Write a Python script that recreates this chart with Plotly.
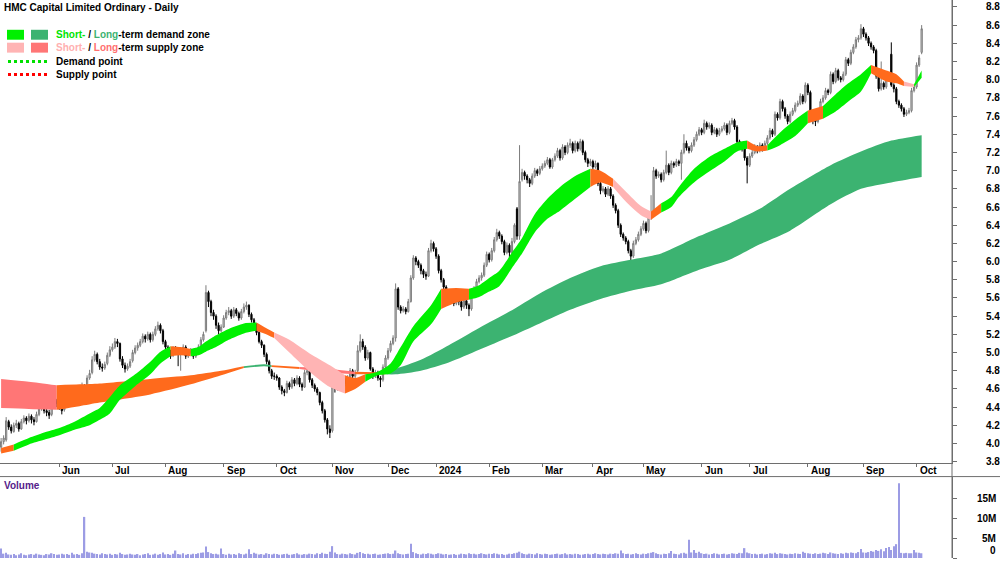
import plotly.graph_objects as go

# ---------------- daily candles (open, high, low, close) ----------------
bars_may_aug_2023 = [
    (3.96, 4.06, 3.91, 4.02), (4.02, 4.09, 3.99, 4.06), (4.04, 4.29, 4.02, 4.25), (4.24, 4.26, 4.15, 4.18),
    (4.18, 4.21, 4.11, 4.14), (4.13, 4.23, 4.12, 4.20), (4.20, 4.26, 4.17, 4.22), (4.22, 4.24, 4.13, 4.16),
    (4.16, 4.27, 4.15, 4.24), (4.24, 4.31, 4.22, 4.28), (4.28, 4.30, 4.21, 4.25), (4.25, 4.33, 4.23, 4.30),
    (4.30, 4.32, 4.22, 4.26), (4.26, 4.29, 4.20, 4.24), (4.24, 4.35, 4.23, 4.32), (4.32, 4.41, 4.30, 4.38),
    (4.38, 4.46, 4.36, 4.42), (4.42, 4.44, 4.33, 4.36), (4.36, 4.39, 4.30, 4.34), (4.34, 4.37, 4.27, 4.31),
    (4.32, 4.45, 4.30, 4.42), (4.42, 4.50, 4.40, 4.47), (4.47, 4.49, 4.40, 4.44), (4.44, 4.47, 4.37, 4.40),
    (4.40, 4.42, 4.32, 4.36), (4.37, 4.49, 4.35, 4.46), (4.46, 4.56, 4.44, 4.53), (4.53, 4.62, 4.51, 4.58),
    (4.58, 4.60, 4.49, 4.52), (4.52, 4.59, 4.50, 4.56), (4.56, 4.57, 4.45, 4.48), (4.49, 4.61, 4.47, 4.58),
    (4.58, 4.67, 4.56, 4.63), (4.63, 4.65, 4.57, 4.60), (4.61, 4.75, 4.60, 4.72), (4.72, 4.81, 4.70, 4.77),
    (4.78, 4.96, 4.76, 4.92), (4.92, 5.02, 4.90, 4.98), (4.98, 5.00, 4.87, 4.90), (4.90, 4.93, 4.81, 4.84),
    (4.84, 4.88, 4.79, 4.83), (4.83, 4.90, 4.81, 4.87), (4.88, 5.00, 4.86, 4.97), (4.97, 5.07, 4.95, 5.03),
    (5.03, 5.10, 5.01, 5.06), (5.06, 5.16, 5.04, 5.12), (5.12, 5.15, 5.06, 5.10), (5.10, 5.11, 4.90, 4.93),
    (4.93, 4.96, 4.83, 4.86), (4.86, 4.89, 4.78, 4.82), (4.82, 4.88, 4.80, 4.85), (4.85, 4.93, 4.83, 4.90),
    (4.91, 5.03, 4.89, 5.00), (5.00, 5.08, 4.98, 5.05), (5.05, 5.11, 5.02, 5.08), (5.08, 5.15, 5.06, 5.12),
    (5.12, 5.21, 5.10, 5.18), (5.18, 5.20, 5.11, 5.15), (5.15, 5.23, 5.13, 5.20), (5.20, 5.22, 5.11, 5.14),
    (5.14, 5.23, 5.12, 5.20), (5.20, 5.29, 5.18, 5.26), (5.26, 5.34, 5.24, 5.30), (5.30, 5.32, 5.21, 5.24),
    (5.24, 5.26, 5.09, 5.12), (5.12, 5.14, 5.03, 5.06), (5.06, 5.08, 4.97, 5.00), (5.00, 5.03, 4.93, 4.96),
    (4.97, 5.07, 4.95, 5.04), (5.04, 5.07, 4.99, 5.02), (5.02, 5.04, 4.85, 4.98), (4.98, 5.03, 4.80, 5.00),
    (5.00, 5.09, 4.98, 5.06), (5.06, 5.08, 4.93, 4.96), (4.96, 5.03, 4.94, 5.00),
]
bars_aug_nov_2023 = [
    (5.00, 5.05, 4.98, 5.02), (5.02, 5.04, 4.93, 4.96), (4.96, 5.03, 4.94, 5.00), (5.00, 5.09, 4.98, 5.06),
    (5.06, 5.17, 5.04, 5.14), (5.14, 5.23, 5.12, 5.20), (5.24, 5.74, 5.22, 5.66), (5.66, 5.68, 5.50, 5.56),
    (5.56, 5.58, 5.40, 5.44), (5.44, 5.47, 5.36, 5.40), (5.40, 5.42, 5.26, 5.30), (5.30, 5.33, 5.20, 5.24),
    (5.24, 5.31, 5.22, 5.28), (5.28, 5.41, 5.27, 5.38), (5.38, 5.47, 5.36, 5.44), (5.44, 5.50, 5.41, 5.46),
    (5.46, 5.48, 5.37, 5.40), (5.40, 5.50, 5.38, 5.47), (5.47, 5.49, 5.40, 5.43), (5.43, 5.45, 5.35, 5.38),
    (5.38, 5.48, 5.36, 5.45), (5.45, 5.54, 5.43, 5.50), (5.50, 5.56, 5.47, 5.52), (5.52, 5.53, 5.39, 5.42),
    (5.42, 5.44, 5.33, 5.36), (5.36, 5.38, 5.27, 5.30), (5.30, 5.32, 5.19, 5.22), (5.22, 5.24, 5.10, 5.12),
    (5.12, 5.14, 5.05, 5.08), (5.08, 5.09, 4.95, 4.98), (4.98, 5.00, 4.87, 4.90), (4.90, 4.92, 4.77, 4.80),
    (4.80, 4.82, 4.71, 4.74), (4.74, 4.78, 4.70, 4.74), (4.74, 4.76, 4.69, 4.72), (4.72, 4.73, 4.59, 4.62),
    (4.62, 4.64, 4.54, 4.58), (4.58, 4.60, 4.52, 4.56), (4.56, 4.69, 4.55, 4.66), (4.66, 4.68, 4.59, 4.62),
    (4.62, 4.73, 4.60, 4.70), (4.70, 4.72, 4.63, 4.66), (4.66, 4.75, 4.64, 4.72), (4.72, 4.74, 4.62, 4.65),
    (4.65, 4.67, 4.58, 4.62), (4.62, 4.81, 4.61, 4.78), (4.78, 4.84, 4.75, 4.80), (4.80, 4.81, 4.67, 4.70),
    (4.70, 4.72, 4.61, 4.64), (4.64, 4.66, 4.57, 4.60), (4.60, 4.62, 4.53, 4.56), (4.56, 4.57, 4.42, 4.45),
    (4.45, 4.47, 4.33, 4.36), (4.36, 4.38, 4.23, 4.26), (4.26, 4.28, 4.10, 4.16), (4.16, 4.20, 4.06, 4.12),
    (4.14, 4.64, 4.12, 4.62), (4.62, 4.65, 4.56, 4.60), (4.60, 4.67, 4.58, 4.64), (4.64, 4.69, 4.61, 4.66),
    (4.66, 4.73, 4.64, 4.70), (4.70, 4.72, 4.63, 4.66), (4.66, 4.75, 4.64, 4.72), (4.72, 4.83, 4.70, 4.80),
    (4.80, 4.82, 4.71, 4.74), (4.74, 4.81, 4.72, 4.78), (4.80, 5.08, 4.78, 5.02), (5.02, 5.20, 5.00, 5.12),
    (5.12, 5.15, 5.03, 5.06), (5.06, 5.08, 4.91, 4.94), (4.94, 5.03, 4.92, 5.00), (5.00, 5.01, 4.80, 4.82),
    (4.82, 4.84, 4.71, 4.74), (4.74, 4.81, 4.72, 4.78), (4.78, 4.80, 4.69, 4.72),
]
bars_nov23_feb24 = [
    (4.72, 4.74, 4.62, 4.70), (4.70, 4.87, 4.68, 4.84), (4.84, 4.97, 4.82, 4.94), (4.94, 5.05, 4.92, 5.02),
    (5.02, 5.13, 5.00, 5.10), (5.10, 5.19, 5.08, 5.16), (5.16, 5.76, 5.12, 5.70), (5.70, 5.72, 5.47, 5.50),
    (5.50, 5.52, 5.43, 5.46), (5.46, 5.51, 5.44, 5.48), (5.48, 5.50, 5.42, 5.45), (5.45, 5.59, 5.44, 5.56),
    (5.56, 5.85, 5.55, 5.82), (5.82, 6.07, 5.80, 6.04), (6.04, 6.06, 5.96, 6.00), (6.00, 6.02, 5.93, 5.96),
    (5.96, 5.98, 5.86, 5.90), (5.90, 5.92, 5.82, 5.86), (5.86, 5.89, 5.80, 5.84), (5.84, 6.15, 5.83, 6.12),
    (6.12, 6.24, 6.10, 6.20), (6.20, 6.22, 6.11, 6.14), (6.14, 6.16, 6.03, 6.06), (6.06, 6.08, 5.87, 5.90),
    (5.90, 5.92, 5.77, 5.80), (5.80, 5.82, 5.69, 5.72), (5.72, 5.74, 5.59, 5.62), (5.62, 5.66, 5.55, 5.58),
    (5.58, 5.65, 5.56, 5.62), (5.62, 5.64, 5.51, 5.54), (5.54, 5.63, 5.52, 5.60), (5.60, 5.62, 5.52, 5.56),
    (5.56, 5.58, 5.46, 5.50), (5.50, 5.60, 5.48, 5.57), (5.57, 5.59, 5.48, 5.52), (5.52, 5.54, 5.40, 5.48),
    (5.48, 5.67, 5.46, 5.64), (5.64, 5.73, 5.62, 5.70), (5.70, 5.81, 5.68, 5.78), (5.78, 5.85, 5.76, 5.82),
    (5.82, 5.88, 5.79, 5.85), (5.85, 5.99, 5.83, 5.96), (5.96, 6.11, 5.94, 6.08), (6.08, 6.10, 5.99, 6.02),
    (6.02, 6.15, 6.00, 6.12), (6.12, 6.27, 6.10, 6.24), (6.24, 6.36, 6.22, 6.32), (6.32, 6.34, 6.25, 6.28),
    (6.28, 6.30, 6.19, 6.22), (6.22, 6.24, 6.07, 6.10), (6.10, 6.21, 6.08, 6.18), (6.18, 6.20, 6.00, 6.10),
    (6.10, 6.26, 6.08, 6.22), (6.22, 6.42, 6.20, 6.40), (6.58, 6.60, 6.24, 6.28), (6.28, 7.28, 6.24, 6.88),
    (6.90, 7.02, 6.88, 6.98), (6.98, 7.00, 6.90, 6.94), (6.94, 6.96, 6.86, 6.90), (6.90, 6.92, 6.82, 6.86),
    (6.86, 6.97, 6.84, 6.94), (6.94, 7.03, 6.92, 7.00), (7.00, 7.02, 6.94, 6.97), (6.97, 7.05, 6.95, 7.02),
    (7.02, 7.08, 7.00, 7.05), (7.05, 7.11, 7.03, 7.08), (7.08, 7.15, 7.06, 7.12), (7.12, 7.14, 7.02, 7.04),
    (7.04, 7.14, 7.02, 7.12), (7.12, 7.19, 7.10, 7.16), (7.16, 7.25, 7.14, 7.22), (7.22, 7.24, 7.11, 7.14),
    (7.14, 7.29, 7.12, 7.26), (7.26, 7.28, 7.17, 7.20), (7.20, 7.31, 7.18, 7.28),
]
bars_mar_jun_2024 = [
    (7.28, 7.35, 7.25, 7.30), (7.30, 7.32, 7.19, 7.22), (7.22, 7.33, 7.20, 7.30), (7.30, 7.32, 7.21, 7.24),
    (7.24, 7.35, 7.22, 7.32), (7.32, 7.34, 7.17, 7.20), (7.20, 7.22, 7.09, 7.12), (7.12, 7.14, 7.04, 7.08),
    (7.08, 7.13, 7.05, 7.10), (7.10, 7.12, 7.01, 7.04), (7.04, 7.11, 7.02, 7.08), (7.08, 7.09, 6.83, 6.86),
    (6.86, 6.88, 6.74, 6.78), (6.78, 6.83, 6.76, 6.80), (6.80, 6.82, 6.71, 6.74), (6.74, 6.83, 6.72, 6.80),
    (6.80, 6.82, 6.69, 6.72), (6.72, 6.74, 6.59, 6.62), (6.62, 6.64, 6.53, 6.56), (6.56, 6.58, 6.37, 6.40),
    (6.40, 6.42, 6.27, 6.30), (6.30, 6.32, 6.23, 6.26), (6.26, 6.28, 6.19, 6.22), (6.22, 6.24, 6.09, 6.12),
    (6.12, 6.14, 6.01, 6.06), (6.06, 6.23, 6.04, 6.20), (6.20, 6.27, 6.18, 6.24), (6.24, 6.33, 6.22, 6.30),
    (6.30, 6.39, 6.28, 6.36), (6.36, 6.45, 6.34, 6.42), (6.42, 6.44, 6.31, 6.34), (6.34, 6.51, 6.32, 6.48),
    (6.48, 6.73, 6.46, 6.54), (6.56, 7.04, 6.54, 7.00), (7.00, 7.02, 6.91, 6.94), (6.94, 6.99, 6.92, 6.96),
    (6.96, 6.98, 6.87, 6.90), (6.90, 7.01, 6.88, 6.98), (6.98, 7.22, 6.96, 7.06), (7.06, 7.08, 6.95, 6.98),
    (6.98, 7.11, 6.96, 7.08), (7.08, 7.10, 7.03, 7.06), (7.06, 7.13, 7.04, 7.10), (7.10, 7.12, 7.05, 7.08),
    (7.08, 7.23, 6.90, 7.20), (7.20, 7.40, 7.18, 7.30), (7.30, 7.33, 7.22, 7.25), (7.25, 7.27, 7.19, 7.22),
    (7.22, 7.31, 7.20, 7.28), (7.28, 7.37, 7.26, 7.34), (7.34, 7.43, 7.32, 7.40), (7.40, 7.48, 7.38, 7.45),
    (7.45, 7.47, 7.39, 7.42), (7.42, 7.56, 7.40, 7.52), (7.52, 7.54, 7.45, 7.48), (7.48, 7.53, 7.46, 7.50),
    (7.50, 7.52, 7.39, 7.42), (7.42, 7.48, 7.40, 7.45), (7.45, 7.47, 7.37, 7.40), (7.40, 7.47, 7.38, 7.44),
    (7.44, 7.49, 7.42, 7.46), (7.46, 7.53, 7.44, 7.50), (7.50, 7.52, 7.39, 7.42), (7.42, 7.55, 7.40, 7.52),
    (7.52, 7.58, 7.50, 7.55), (7.55, 7.57, 7.45, 7.48), (7.48, 7.50, 7.29, 7.32), (7.32, 7.34, 7.23, 7.26),
    (7.26, 7.29, 7.21, 7.24), (7.24, 7.26, 7.11, 7.14), (7.14, 7.16, 6.86, 7.06), (7.06, 7.19, 7.04, 7.16),
    (7.16, 7.23, 7.14, 7.20), (7.20, 7.29, 7.18, 7.26), (7.26, 7.28, 7.19, 7.22),
]
bars_jul_oct_2024 = [
    (7.22, 7.31, 7.20, 7.28), (7.28, 7.30, 7.21, 7.24), (7.24, 7.33, 7.22, 7.30), (7.30, 7.39, 7.28, 7.36),
    (7.36, 7.47, 7.34, 7.44), (7.44, 7.46, 7.37, 7.40), (7.40, 7.65, 7.38, 7.62), (7.62, 7.64, 7.55, 7.58),
    (7.58, 7.79, 7.56, 7.76), (7.76, 7.78, 7.65, 7.68), (7.68, 7.70, 7.57, 7.60), (7.60, 7.62, 7.51, 7.54),
    (7.54, 7.65, 7.52, 7.62), (7.62, 7.69, 7.60, 7.66), (7.66, 7.75, 7.64, 7.72), (7.72, 7.77, 7.70, 7.74),
    (7.74, 7.85, 7.72, 7.82), (7.82, 7.84, 7.73, 7.76), (7.76, 7.97, 7.74, 7.94), (7.94, 7.96, 7.83, 7.86),
    (7.86, 7.88, 7.59, 7.62), (7.62, 7.64, 7.51, 7.56), (7.56, 7.58, 7.49, 7.54), (7.54, 7.63, 7.52, 7.60),
    (7.60, 7.79, 7.58, 7.76), (7.76, 7.83, 7.74, 7.80), (7.80, 7.91, 7.78, 7.88), (7.88, 7.90, 7.83, 7.86),
    (7.86, 8.09, 7.84, 8.06), (8.06, 8.08, 7.95, 7.98), (7.98, 8.13, 7.96, 8.10), (8.10, 8.12, 7.99, 8.02),
    (8.02, 8.04, 7.97, 8.00), (8.00, 8.09, 7.98, 8.06), (8.06, 8.25, 8.04, 8.22), (8.22, 8.24, 8.15, 8.18),
    (8.18, 8.33, 8.16, 8.30), (8.30, 8.39, 8.28, 8.36), (8.36, 8.47, 8.34, 8.44), (8.44, 8.49, 8.41, 8.46),
    (8.46, 8.61, 8.44, 8.56), (8.56, 8.58, 8.47, 8.50), (8.50, 8.52, 8.43, 8.46), (8.46, 8.48, 8.37, 8.40),
    (8.40, 8.42, 8.33, 8.36), (8.36, 8.38, 8.29, 8.32), (8.32, 8.34, 8.01, 8.04), (8.04, 8.06, 7.87, 7.90),
    (7.90, 8.20, 7.88, 7.96), (7.96, 7.98, 7.89, 7.92), (7.92, 8.09, 7.90, 8.06), (8.06, 8.08, 7.99, 8.02),
    (8.28, 8.41, 7.92, 7.94), (7.94, 7.96, 7.86, 7.90), (7.90, 7.92, 7.73, 7.76), (7.76, 7.78, 7.69, 7.72),
    (7.72, 7.74, 7.65, 7.68), (7.68, 7.70, 7.59, 7.62), (7.62, 7.67, 7.60, 7.64), (7.64, 7.69, 7.62, 7.66),
    (7.66, 7.91, 7.64, 7.88), (7.88, 7.95, 7.86, 7.92), (7.92, 8.19, 7.90, 8.16), (8.16, 8.27, 8.14, 8.24),
    (8.30, 8.60, 8.28, 8.56),
]

# ---------------- daily volume (millions of shares) ----------------
volume_may_aug_2023 = [
    2.4, 1.1, 1.3, 0.9, 0.8, 1.0, 0.7, 0.9, 1.2, 0.8, 0.7, 0.9, 1.0, 0.8, 1.1, 0.9, 0.8, 0.7, 1.0, 0.9,
    1.2, 1.0, 0.8, 0.9, 1.1, 0.9, 1.0, 0.8, 1.3, 0.9, 1.0, 0.8, 1.2, 10.4, 1.6, 1.4, 1.3, 1.1, 1.0, 0.9,
    1.2, 1.0, 0.9, 1.1, 0.8, 1.0, 0.9, 1.3, 1.0, 0.8, 0.9, 1.1, 0.9, 0.8, 1.0, 0.7, 0.9, 1.0, 1.2, 0.8,
    0.9, 1.1, 0.8, 1.0, 1.4, 0.9, 1.0, 0.8, 1.1, 1.9, 1.0, 0.9, 1.2, 0.8, 1.0,
]
volume_aug_nov_2023 = [
    0.9, 1.1, 1.0, 1.2, 1.3, 1.4, 2.9, 1.5, 1.2, 1.0, 1.1, 0.9, 2.4, 1.0, 0.8, 1.1, 0.9, 1.0, 0.8, 1.2,
    1.0, 0.9, 1.1, 2.2, 1.0, 1.3, 1.1, 0.9, 1.0, 0.8, 1.2, 1.0, 0.9, 1.1, 1.0, 0.8, 0.9, 1.0, 1.1, 0.8,
    0.9, 1.0, 1.2, 0.9, 0.8, 1.0, 0.9, 1.1, 1.0, 0.9, 1.2, 1.0, 1.3, 1.1, 1.0, 1.6, 3.0, 1.4, 1.0, 0.9,
    1.1, 1.0, 0.9, 1.2, 1.0, 0.9, 1.3, 1.5, 1.2, 1.0, 1.1, 0.9, 1.0, 1.1, 0.8,
]
volume_nov23_feb24 = [
    0.9, 1.0, 1.1, 1.2, 1.0, 1.1, 1.9, 1.2, 1.0, 0.9, 1.0, 1.1, 3.6, 1.5, 1.2, 1.0, 0.9, 1.1, 1.0, 1.2,
    1.1, 0.9, 1.0, 1.2, 1.1, 0.9, 1.0, 0.8, 0.9, 1.0, 0.8, 0.9, 1.1, 1.0, 0.9, 1.2, 1.0, 1.1, 0.9, 1.0,
    1.2, 1.0, 0.9, 1.1, 1.0, 1.2, 1.1, 0.9, 1.0, 0.8, 0.9, 1.1, 1.0, 1.2, 1.3, 1.6, 1.2, 1.0, 0.9, 1.1,
    1.0, 0.9, 1.2, 1.0, 0.9, 1.1, 1.0, 0.8, 0.9, 1.0, 1.1, 0.9, 1.0, 1.2, 0.9,
]
volume_mar_jun_2024 = [
    1.0, 0.9, 1.1, 1.0, 0.8, 0.9, 1.0, 1.1, 0.9, 1.0, 1.2, 1.0, 0.9, 1.1, 1.0, 0.9, 1.1, 1.0, 1.2, 1.1,
    1.9, 1.2, 1.0, 1.1, 0.9, 1.0, 1.2, 1.0, 0.9, 1.1, 1.0, 1.2, 1.3, 1.5, 1.2, 1.0, 0.9, 1.1, 1.0, 1.2,
    1.8, 1.1, 1.0, 0.9, 1.2, 1.3, 1.1, 4.6, 1.4, 2.0, 1.3, 1.6, 1.2, 1.0, 1.1, 0.9, 1.0, 1.2, 1.1, 0.9,
    1.0, 1.1, 0.9, 1.0, 1.2, 1.1, 1.0, 1.3, 1.2, 2.5, 1.4, 1.2, 1.0, 1.1, 0.9,
]
volume_jul_oct_2024 = [
    1.0, 1.1, 0.9, 1.0, 1.2, 1.1, 1.3, 1.0, 1.2, 1.1, 1.0, 0.9, 1.1, 1.0, 1.2, 1.1, 1.0, 1.6, 1.3, 1.2,
    1.1, 1.0, 1.2, 1.0, 1.1, 1.3, 1.2, 1.0, 1.4, 1.2, 1.1, 1.0, 1.2, 1.1, 1.3, 1.2, 1.4, 1.3, 1.2, 1.5,
    2.3, 1.4, 1.3, 1.5, 1.8, 1.6, 2.0, 1.8, 2.2, 1.7, 2.5, 2.8, 2.0, 3.0, 3.5, 18.9, 1.3, 1.2, 1.3, 1.2,
    1.2, 2.0, 1.4, 1.3, 1.2,
]

# ---------------- short-term zone (trading-day index, upper, lower, state) ----------------
st_idx = [0, 5, 11, 17, 23, 29, 35, 39, 43, 47, 53, 59, 63, 67, 71, 75, 78, 81, 85, 90,
          96, 101, 104, 108, 114, 122, 130, 136, 140, 144, 149, 154, 158, 163, 170, 174, 180, 185, 189, 193,
          197, 202, 206, 211, 216, 221, 227, 233, 237, 242, 247, 253, 257, 261, 265, 268, 274, 280, 286, 291,
          295, 299, 303, 308, 314, 319, 325, 330, 335, 340, 344, 350, 354, 357, 361, 364]
st_hi = [3.95, 3.99, 4.06, 4.12, 4.17, 4.24, 4.33, 4.39, 4.51, 4.64, 4.76, 4.90, 5.01, 5.07, 5.06, 5.04, 5.06, 5.12, 5.19, 5.26,
         5.32, 5.33, 5.28, 5.22, 5.14, 4.99, 4.86, 4.75, 4.72, 4.76, 4.79, 4.88, 5.06, 5.29, 5.52, 5.70, 5.71, 5.70, 5.74, 5.82,
         5.90, 6.10, 6.26, 6.52, 6.69, 6.82, 6.94, 7.02, 7.00, 6.91, 6.77, 6.61, 6.55, 6.64, 6.71, 6.82, 7.02, 7.15, 7.24, 7.31,
         7.33, 7.27, 7.28, 7.42, 7.56, 7.66, 7.71, 7.84, 7.96, 8.06, 8.16, 8.10, 8.06, 7.98, 7.95, 8.10]
st_lo = [3.89, 3.92, 3.99, 4.04, 4.09, 4.15, 4.20, 4.26, 4.33, 4.48, 4.63, 4.76, 4.88, 4.96, 4.97, 4.96, 4.97, 5.01, 5.06, 5.14,
         5.21, 5.24, 5.21, 5.16, 5.00, 4.79, 4.62, 4.55, 4.60, 4.68, 4.75, 4.77, 4.86, 5.12, 5.31, 5.48, 5.55, 5.58, 5.61, 5.67,
         5.73, 5.93, 6.09, 6.32, 6.47, 6.56, 6.69, 6.82, 6.87, 6.82, 6.66, 6.51, 6.46, 6.54, 6.60, 6.71, 6.87, 6.99, 7.10, 7.21,
         7.24, 7.21, 7.22, 7.28, 7.38, 7.52, 7.57, 7.65, 7.76, 7.87, 8.07, 7.98, 7.96, 7.93, 7.92, 8.02]
# d = demand, s = supply, n = neutral (state of the stretch starting at each point)
st_state = ("n" "dddddddddddd" "nn" "dddddd" "nn" "ssss" "nn" "dddddd" "nn" "dddddddddd"
            "nn" "sss" "n" "ddddddd" "nn" "ddd" "n" "dddd" "nnn" "s" "dd")

# ---------------- long-term zone ----------------
lt_idx = [0, 11, 22, 31, 39, 59, 75, 87, 96, 104, 107, 118, 130, 140, 152, 156, 166, 177, 189, 201,
          213, 225, 237, 249, 261, 276, 288, 300, 312, 328, 340, 352, 364]
lt_hi = [4.71, 4.68, 4.64, 4.65, 4.66, 4.71, 4.75, 4.80, 4.85, 4.87, 4.86, 4.84, 4.82, 4.79, 4.78, 4.82, 4.92, 5.08, 5.27, 5.45,
         5.65, 5.82, 5.95, 6.02, 6.09, 6.28, 6.42, 6.58, 6.80, 7.06, 7.21, 7.33, 7.39]
lt_lo = [4.39, 4.38, 4.37, 4.41, 4.45, 4.54, 4.65, 4.75, 4.83, 4.85, 4.84, 4.82, 4.78, 4.76, 4.76, 4.76, 4.80, 4.89, 5.03, 5.17,
         5.32, 5.47, 5.59, 5.68, 5.75, 5.91, 6.02, 6.19, 6.34, 6.63, 6.80, 6.87, 6.93]
lt_state = "SS" "NNNNNN" "DD" "N" "SS" "N" "DDDDDDDDDDDDDDDDDDD"

# ---------------- x-axis months ----------------
month_idx = [23, 44, 65, 88, 109, 131, 153, 172, 193, 214, 234, 254, 277, 296, 319, 341, 362]
month_txt = ["Jun", "Jul", "Aug", "Sep", "Oct", "Nov", "Dec", "2024", "Feb", "Mar", "Apr", "May",
             "Jun", "Jul", "Aug", "Sep", "Oct"]
vol_tick_vals = [0, 5e6, 10e6, 15e6]
vol_tick_txt = ["0", "5M", "10M", "15M"]

# ---------------- assemble ----------------
bars = bars_may_aug_2023 + bars_aug_nov_2023 + bars_nov23_feb24 + bars_mar_jun_2024 + bars_jul_oct_2024
vol_m = volume_may_aug_2023 + volume_aug_nov_2023 + volume_nov23_feb24 + volume_mar_jun_2024 + volume_jul_oct_2024
assert len(bars) == len(vol_m), (len(bars), len(vol_m))
assert len(st_state) == len(st_idx) == len(st_hi) == len(st_lo)
assert len(lt_state) == len(lt_idx) == len(lt_hi) == len(lt_lo)
x = list(range(len(bars)))

ST_COL = {"d": "#00F000", "n": "#FF6A1C", "s": "#FFB4B4"}
LT_COL = {"D": "#3CB371", "N": "#FF6A1C", "S": "#FF7676"}

fig = go.Figure()


def add_band(idx, hi, lo, state, colors):
    k = 0
    last = len(idx) - 1
    while k < last:
        z = state[k]
        j = k
        while j < last and state[j] == z:
            j += 1
        xs = idx[k:j + 1]
        fig.add_trace(go.Scatter(x=xs, y=hi[k:j + 1], mode="lines",
                                 line=dict(width=0, shape="spline", smoothing=0.7, color=colors[z]),
                                 hoverinfo="skip", xaxis="x", yaxis="y"))
        fig.add_trace(go.Scatter(x=xs, y=lo[k:j + 1], mode="lines", fill="tonexty",
                                 fillcolor=colors[z],
                                 line=dict(width=0, shape="spline", smoothing=0.7, color=colors[z]),
                                 hoverinfo="skip", xaxis="x", yaxis="y"))
        k = j


add_band(lt_idx, lt_hi, lt_lo, lt_state, LT_COL)
add_band(st_idx, st_hi, st_lo, st_state, ST_COL)

fig.add_trace(go.Candlestick(
    x=x,
    open=[b[0] for b in bars], high=[b[1] for b in bars],
    low=[b[2] for b in bars], close=[b[3] for b in bars],
    increasing=dict(line=dict(color="#7c7c7c", width=1), fillcolor="#d2d2d2"),
    decreasing=dict(line=dict(color="#000000", width=1), fillcolor="#000000"),
    whiskerwidth=0, hoverinfo="skip", xaxis="x", yaxis="y"))

fig.add_trace(go.Bar(x=x, y=[v * 1e6 for v in vol_m], width=0.55,
                     marker=dict(color="#9c9ce4", line=dict(width=0)),
                     hoverinfo="skip", xaxis="x2", yaxis="y2"))

AX = "#6e6e6e"
W, H = 1000, 562
PLOT_W = 952
FONT = "Liberation Sans, Arial, sans-serif"
x_range = [-0.435, 376.0]

fig.update_layout(
    width=W, height=H, margin=dict(l=0, r=W - PLOT_W, t=0, b=0),
    paper_bgcolor="white", plot_bgcolor="white", showlegend=False,
    font=dict(family=FONT, size=10, color="black"),
    xaxis=dict(domain=[0, 1], range=x_range, anchor="y", showgrid=False, zeroline=False,
               showline=True, linecolor=AX, linewidth=1, ticks="outside", ticklen=3, tickcolor=AX,
               tickvals=month_idx, showticklabels=False, rangeslider=dict(visible=False)),
    yaxis=dict(domain=[1 - 466 / H, 1], range=[3.789, 8.876], anchor="x", side="right",
               showgrid=False, zeroline=False, showline=True, linecolor=AX, linewidth=1,
               ticks="outside", ticklen=4, tickcolor=AX, tick0=3.8, dtick=0.2, tickformat=".1f",
               tickfont=dict(family=FONT, size=10, color="black", weight="bold"),
               ticklabelstandoff=27),
    xaxis2=dict(domain=[0, 1], range=x_range, matches="x", anchor="y2", showgrid=False,
                zeroline=False, showline=False, showticklabels=False, ticks=""),
    yaxis2=dict(domain=[0, 1 - 480 / H], range=[0, 20.6e6], anchor="x2", side="right",
                showgrid=False, zeroline=False, showline=True, linecolor=AX, linewidth=1,
                ticks="outside", ticklen=4, tickcolor=AX, tickvals=vol_tick_vals, showticklabels=False),
)


def px_x(p):
    return p / PLOT_W


def px_y(p):
    return 1 - p / H


shapes = [
    dict(type="line", xref="paper", yref="paper", x0=0, x1=px_x(W), y0=px_y(480), y1=px_y(480),
         line=dict(color=AX, width=1)),
    dict(type="line", xref="paper", yref="paper", x0=1, x1=1, y0=0, y1=1, line=dict(color=AX, width=1)),
    # legend swatches
    dict(type="rect", xref="paper", yref="paper", x0=px_x(7), x1=px_x(24), y0=px_y(40), y1=px_y(30),
         fillcolor="#00F000", line=dict(width=0)),
    dict(type="rect", xref="paper", yref="paper", x0=px_x(31), x1=px_x(48), y0=px_y(40), y1=px_y(30),
         fillcolor="#3CB371", line=dict(width=0)),
    dict(type="rect", xref="paper", yref="paper", x0=px_x(7), x1=px_x(24), y0=px_y(53), y1=px_y(43),
         fillcolor="#FFB4B4", line=dict(width=0)),
    dict(type="rect", xref="paper", yref="paper", x0=px_x(31), x1=px_x(48), y0=px_y(53), y1=px_y(43),
         fillcolor="#FF7676", line=dict(width=0)),
    dict(type="line", xref="paper", yref="paper", x0=px_x(8), x1=px_x(47), y0=px_y(62), y1=px_y(62),
         line=dict(color="#00E000", width=3, dash="dot")),
    dict(type="line", xref="paper", yref="paper", x0=px_x(8), x1=px_x(47), y0=px_y(75), y1=px_y(75),
         line=dict(color="#FF0000", width=3, dash="dot")),
]
fig.update_layout(shapes=shapes)

ann = []


def text(xp, yp, t, color="black"):
    ann.append(dict(x=px_x(xp), y=px_y(yp), xref="paper", yref="paper", text=t, showarrow=False,
                    xanchor="left", yanchor="middle",
                    font=dict(family=FONT, size=10, color=color, weight="bold")))


text(2, 8, "HMC Capital Limited Ordinary - Daily")
text(54, 35, '<span style="color:#00E400">Short-</span> / <span style="color:#3CB371">Long</span>-term demand zone')
text(54, 48, '<span style="color:#FFB0B0">Short-</span> / <span style="color:#FF6F6F">Long</span>-term supply zone')
text(54, 62, "Demand point")
text(54, 75, "Supply point")
text(2, 489, "Volume", color="#55218a")
for i, lab in zip(month_idx, month_txt):
    ann.append(dict(x=i, y=px_y(473.5), xref="x", yref="paper", text=lab, showarrow=False,
                    xanchor="left", yanchor="middle", xshift=1,
                    font=dict(family=FONT, size=10, color="black", weight="bold")))
for v, lab in zip(vol_tick_vals, vol_tick_txt):
    ann.append(dict(x=px_x(998), y=v, xref="paper", yref="y2", text=lab, showarrow=False,
                    xanchor="right", yanchor="bottom" if v == 0 else "middle",
                    font=dict(family=FONT, size=10, color="black", weight="bold")))
fig.update_layout(annotations=ann)

fig.write_html("out.html")
